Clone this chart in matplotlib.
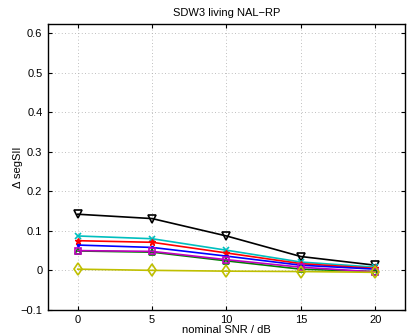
import matplotlib
matplotlib.use("Agg")
import matplotlib.pyplot as plt

plt.rcParams['font.family'] = ['Liberation Sans', 'DejaVu Sans']

snr = [0, 5, 10, 15, 20]

# delta segSII per condition
black = [0.142, 0.131, 0.087, 0.035, 0.013]
cyan = [0.087, 0.080, 0.051, 0.021, 0.008]
red = [0.075, 0.071, 0.044, 0.017, 0.005]
blue = [0.064, 0.058, 0.036, 0.013, 0.003]
green = [0.049, 0.046, 0.024, 0.003, -0.003]
magenta = [0.050, 0.048, 0.027, 0.008, -0.004]
yellow = [0.003, 0.000, -0.002, -0.003, -0.005]

fig = plt.figure(figsize=(4.07, 3.35), dpi=100)
ax = fig.add_axes([0.118, 0.075, 0.877, 0.853])

lw = 1.2
ms = 5
ax.plot(snr, black, color='black', marker='v', markerfacecolor='none', lw=lw, ms=6, mew=1.2)
ax.plot(snr, cyan, color='#00bfbf', marker='x', lw=lw, ms=ms, mew=1.2)
ax.plot(snr, red, color='red', marker='*', lw=lw, ms=ms, mew=1)
ax.plot(snr, blue, color='blue', marker='.', lw=lw, ms=3)
ax.plot(snr, green, color='#008000', marker='^', markerfacecolor='none', lw=lw, ms=ms, mew=1.2)
ax.plot(snr, magenta, color='#bf00bf', marker='s', markerfacecolor='none', lw=lw, ms=ms, mew=1.2)
ax.plot(snr, yellow, color='#bfbf00', marker='d', markerfacecolor='none', lw=lw, ms=6, mew=1.2)

ax.set_xlim(-2, 22)
ax.set_ylim(-0.1, 0.623)
ax.set_xticks(snr)
ax.set_yticks([-0.1, 0, 0.1, 0.2, 0.3, 0.4, 0.5, 0.6])
ax.set_yticklabels(['\u22120.1', '0', '0.1', '0.2', '0.3', '0.4', '0.5', '0.6'])
ax.grid(True, linestyle=(0, (1, 3)), color='#aaaaaa', linewidth=0.6)
ax.tick_params(direction='in', labelsize=8, length=3, top=True, right=True, width=0.8, pad=4)
for s in ax.spines.values():
    s.set_linewidth(1.0)

ax.set_xlabel('nominal SNR / dB', fontsize=8, labelpad=0)
ax.set_ylabel('\u0394 segSII', fontsize=8, labelpad=-2)
ax.set_title('SDW3 living NAL\u2212RP', fontsize=8, pad=6)

fig.savefig('out.png', dpi=100)
